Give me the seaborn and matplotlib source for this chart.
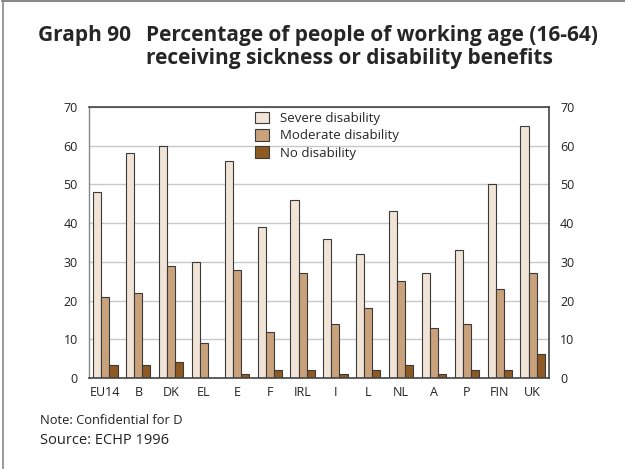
import pandas as pd
import matplotlib.pyplot as plt
import seaborn as sns
from matplotlib.lines import Line2D

plt.switch_backend("agg")

# Data
countries = ["EU14", "B", "DK", "EL", "E", "F", "IRL", "I", "L", "NL", "A", "P", "FIN", "UK"]
severe = [48, 58, 60, 30, 56, 39, 46, 36, 32, 43, 27, 33, 50, 65]
moderate = [21, 22, 29, 9, 28, 12, 27, 14, 18, 25, 13, 14, 23, 27]
no_disability = [3.3, 3.3, 4.2, 0, 1.1, 2.1, 2.1, 1.1, 2.1, 3.4, 1.1, 2.1, 2.1, 6.1]
groups = ["Severe disability", "Moderate disability", "No disability"]
colors = ["#f1e4d6", "#c9a27c", "#8e5a24"]

df = pd.DataFrame({
    "country": countries * 3,
    "group": [groups[0]] * 14 + [groups[1]] * 14 + [groups[2]] * 14,
    "value": severe + moderate + no_disability,
})

sns.set_theme(style="white")
plt.rcParams["font.family"] = ["Open Sans", "DejaVu Sans"]

fig = plt.figure(figsize=(6.25, 4.69), dpi=100)
ax = fig.add_axes([0.1424, 0.194, 0.736, 0.578])

sns.barplot(
    data=df, x="country", y="value", hue="group", palette=colors, saturation=1,
    width=0.74, edgecolor="#3a3a3a", linewidth=0.8, ax=ax,
)

ax.set_ylim(0, 70)
ax.set_yticks(range(0, 71, 10))
ax.yaxis.grid(True, color="#c8c8c8", linewidth=1)
ax.set_axisbelow(True)
ax.set_xlabel("")
ax.set_ylabel("")
ax.tick_params(axis="both", length=0, labelsize=9, colors="#222222", pad=6)
ax.tick_params(axis="y", labelright=True, pad=8)
for side in ["top", "right", "bottom"]:
    ax.spines[side].set_color("#444444")
    ax.spines[side].set_linewidth(1.2)
ax.spines["left"].set_color("#888888")
ax.spines["left"].set_linewidth(1.0)

ax.legend(
    loc="upper left", bbox_to_anchor=(0.34, 1.017), frameon=False, fontsize=9.5,
    handlelength=1.1, handleheight=1.0, handletextpad=0.8, labelspacing=0.3,
    borderaxespad=0.3,
)
for h in ax.get_legend().get_patches():
    h.set_edgecolor("#3a3a3a")

# Title
fig.text(0.061, 0.924, "Graph 90", fontsize=15, fontweight="bold", va="center")
fig.text(0.234, 0.924, "Percentage of people of working age (16-64)",
         fontsize=15, fontweight="bold", va="center")
fig.text(0.234, 0.876, "receiving sickness or disability benefits",
         fontsize=15, fontweight="bold", va="center")

fig.text(0.064, 0.104, "Note: Confidential for D", fontsize=9.3, va="center", color="#222222")
fig.text(0.064, 0.061, "Source: ECHP 1996", fontsize=10.5, va="center", color="#222222")

# Frame lines at top and left of the page
fig.add_artist(Line2D([0.003, 1], [0.997, 0.997], color="#888888", linewidth=1.5,
                      transform=fig.transFigure))
fig.add_artist(Line2D([0.004, 0.004], [0, 0.997], color="#888888", linewidth=1.2,
                      transform=fig.transFigure))

fig.savefig("out.png", dpi=100)
